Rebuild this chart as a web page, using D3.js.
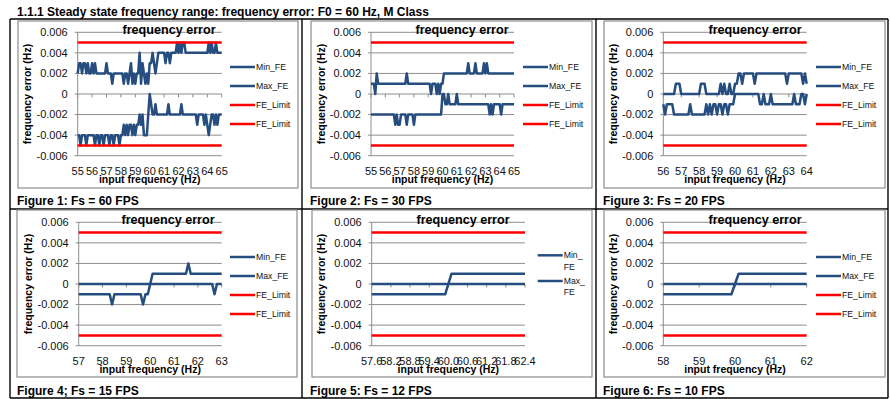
<!DOCTYPE html>
<html>
<head>
<meta charset="utf-8">
<script src="https://cdn.jsdelivr.net/npm/d3@7"></script>
<style>
  body { margin: 0; background: #fff; }
  svg { display: block; font-family: "Liberation Sans", Arial, sans-serif; }
</style>
</head>
<body>
<svg id="page" width="890" height="399"></svg>
<script>
// all error values are in mHz (0.001 Hz)
const yTicks = [-6, -4, -2, 0, 2, 4, 6];
const feLimits = [5, -5];
const legendNames = ['Min_FE', 'Max_FE', 'FE_Limit', 'FE_Limit'];
const pageTitle = '1.1.1 Steady state frequency range: frequency error: F0 = 60 Hz, M Class';
const captions = ['Figure 1: Fs = 60 FPS', 'Figure 2: Fs = 30 FPS', 'Figure 3: Fs = 20 FPS',
	'Figure 4; Fs = 15 FPS', 'Figure 5: Fs = 12 FPS', 'Figure 6: Fs = 10 FPS'];

// input frequency categories (0.1 Hz steps)
const freq1 = d3.range(550, 651).map(d => d / 10);
const freq2 = d3.range(550, 651).map(d => d / 10);
const freq3 = d3.range(560, 641).map(d => d / 10);
const freq4 = d3.range(570, 631).map(d => d / 10);
const freq5 = d3.range(576, 625).map(d => d / 10);
const freq6 = d3.range(580, 621).map(d => d / 10);

const xTicks1 = [55, 56, 57, 58, 59, 60, 61, 62, 63, 64, 65];
const xTicks2 = [55, 56, 57, 58, 59, 60, 61, 62, 63, 64, 65];
const xTicks3 = [56, 57, 58, 59, 60, 61, 62, 63, 64];
const xTicks4 = [57, 58, 59, 60, 61, 62, 63];
const xTicks5 = [57.6, 58.2, 58.8, 59.4, 60.0, 60.6, 61.2, 61.8, 62.4];
const xTicks6 = [58, 59, 60, 61, 62];

// Figure 1
const minFE1 = [
	-4,-4,-5,-4,-4,-4,-5,-4,-4,-4,
	-4,-4,-5,-4,-4,-5,-4,-4,-5,-4,
	-4,-4,-5,-4,-4,-5,-4,-4,-4,-5,
	-4,-4,-3,-4,-3,-4,-3,-3,-4,-3,
	-4,-3,-3,-2,-3,-2,-4,-4,-4,-2,
	0,-1,-2,-2,-1,-2,-2,-2,-2,-2,
	-2,-2,-2,-1,-2,-2,-2,-2,-2,-2,
	-2,-2,-1,-2,-2,-2,-2,-2,-2,-2,
	-2,-2,-2,-3,-2,-2,-2,-2,-3,-2,
	-3,-4,-3,-2,-2,-3,-2,-3,-2,-2,
	-2];
const maxFE1 = [
	2,3,3,2,3,3,2,3,2,2,
	3,2,3,2,2,2,2,2,2,2,
	3,2,2,2,1,2,2,2,2,2,
	2,2,1,2,2,1,2,3,1,2,
	1,2,2,4,1,3,2,1,2,1,
	3,3,4,3,2,3,4,4,4,4,
	4,3,4,4,3,4,4,4,4,5,
	4,5,4,5,5,4,4,4,4,4,
	4,4,4,4,4,4,4,4,4,4,
	4,5,4,5,4,4,5,4,4,4,
	4];

// Figure 2
const minFE2 = [
	-2,-2,-2,-2,-2,-2,-2,-2,-2,-2,
	-2,-2,-2,-2,-2,-2,-2,-3,-2,-3,
	-3,-2,-2,-2,-2,-3,-2,-2,-2,-2,
	-3,-2,-2,-2,-2,-2,-2,-2,-2,-2,
	-2,-2,-2,-2,-2,-2,-2,-2,-2,-2,
	0,0,-1,-1,0,-1,-1,-1,-1,-1,
	0,-1,-1,-1,-1,-1,-1,-1,-1,-1,
	-1,-1,-1,-1,-1,-1,-1,-1,-1,-1,
	-1,-1,-1,-2,-1,-2,-1,-1,-1,-1,
	-1,-2,-1,-1,-1,-1,-1,-1,-1,-1,
	-1];
const maxFE2 = [
	1,1,1,0,2,1,1,1,1,1,
	1,1,1,1,1,1,1,1,1,1,
	1,1,1,1,1,2,1,1,1,1,
	1,1,1,1,1,1,1,1,1,1,
	1,1,0,1,1,1,0,1,0,1,
	1,2,2,2,2,2,2,2,2,2,
	2,2,2,2,2,2,2,2,3,2,
	2,2,2,3,2,2,2,2,2,3,
	2,3,2,2,2,2,2,2,2,2,
	2,2,2,2,2,2,2,2,2,2,
	2];

// Figure 3
const minFE3 = [
	-1,-2,-1,-1,-1,-1,-2,-2,-2,-2,
	-2,-2,-2,-2,-2,-1,-2,-2,-2,-2,
	-2,-2,-2,-2,-1,-2,-1,-2,-1,-1,
	-2,-1,-1,-2,-1,-1,-2,-1,-1,-1,
	0,0,0,0,0,0,0,0,0,0,
	0,0,0,0,-1,-1,0,-1,-1,-1,
	0,-1,-1,-1,-1,-1,-1,-1,-1,-1,
	-1,-1,-1,0,-1,-1,-1,0,0,-1,
	0];
const maxFE3 = [
	0,0,0,0,0,0,0,1,1,1,
	0,0,0,0,0,0,0,0,0,0,
	0,1,1,1,0,0,0,0,0,0,
	0,0,1,0,1,0,0,1,0,0,
	1,1,2,2,1,2,2,2,2,2,
	2,1,2,2,2,2,2,2,2,2,
	2,2,2,2,2,2,2,2,2,1,
	2,2,2,2,2,2,2,2,1,2,
	1];

// Figure 4
const minFE4 = [
	-1,-1,-1,-1,-1,-1,-1,-1,-1,-1,
	-1,-1,-1,-1,-2,-1,-1,-1,-1,-1,
	-1,-1,-1,-1,-1,-1,-1,-2,-1,-1,
	0,1,1,1,1,1,1,1,1,1,
	1,1,1,1,1,1,2,1,1,1,
	1,1,1,1,1,1,1,1,1,1,
	1];
const maxFE4 = [
	0,0,0,0,0,0,0,0,0,0,
	0,0,0,0,0,0,0,0,0,0,
	0,0,0,0,0,0,0,0,0,0,
	0,0,0,0,0,0,0,0,0,0,
	0,0,0,0,0,0,0,0,0,0,
	0,0,0,0,0,0,0,-1,0,0,
	0];

// Figure 5
const minFE5 = [
	-1,-1,-1,-1,-1,-1,-1,-1,-1,-1,-1,-1,
	-1,-1,-1,-1,-1,-1,-1,-1,-1,-1,-1,-1,
	0,
	1,1,1,1,1,1,1,1,1,1,1,1,
	1,1,1,1,1,1,1,1,1,1,1,1];
const maxFE5 = [
	0,0,0,0,0,0,0,0,0,0,0,0,
	0,0,0,0,0,0,0,0,0,0,0,0,
	0,
	0,0,0,0,0,0,0,0,0,0,0,0,
	0,0,0,0,0,0,0,0,0,0,0,0];

// Figure 6
const minFE6 = [
	-1,-1,-1,-1,-1,-1,-1,-1,-1,-1,
	-1,-1,-1,-1,-1,-1,-1,-1,-1,-1,
	0,
	1,1,1,1,1,1,1,1,1,1,
	1,1,1,1,1,1,1,1,1,1];
const maxFE6 = [
	0,0,0,0,0,0,0,0,0,0,
	0,0,0,0,0,0,0,0,0,0,
	0,
	0,0,0,0,0,0,0,0,0,0,
	0,0,0,0,0,0,0,0,0,0];

const blue = '#264d80';
const red = '#ff0000';
const gridGray = '#8d8d8d';

const charts = [
	{freq: freq1, minFE: minFE1, maxFE: maxFE1, xTicks: xTicks1, box: [18, 21, 298, 188], left: 77.7, right: 221.7, top: 32.3, bottom: 155.7, legendX: 230, cap: [17, 205]},
	{freq: freq2, minFE: minFE2, maxFE: maxFE2, xTicks: xTicks2, box: [311, 21, 592, 188], left: 371, right: 514, top: 32.3, bottom: 155.7, legendX: 523, cap: [310, 205]},
	{freq: freq3, minFE: minFE3, maxFE: maxFE3, xTicks: xTicks3, box: [604, 21, 885, 188], left: 663.3, right: 806.7, top: 32.3, bottom: 155.7, legendX: 816, cap: [603, 205]},
	{freq: freq4, minFE: minFE4, maxFE: maxFE4, xTicks: xTicks4, box: [17, 210, 297, 377], left: 78.7, right: 221.7, top: 222.3, bottom: 345.7, legendX: 230, cap: [17, 395]},
	{freq: freq5, minFE: minFE5, maxFE: maxFE5, xTicks: xTicks5, box: [312, 210, 592, 377], left: 371.7, right: 525, top: 222.3, bottom: 345.7, legendX: 537.7, cap: [310, 395], wrapLegend: true, decimals: 1},
	{freq: freq6, minFE: minFE6, maxFE: maxFE6, xTicks: xTicks6, box: [604, 210, 885, 377], left: 663.3, right: 806.7, top: 222.3, bottom: 345.7, legendX: 816, cap: [603, 395]}
];
charts.forEach((c, i) => c.caption = captions[i]);

const svg = d3.select('#page');

function fmtY(v) {
	return v === 0 ? '0' : (v / 1000).toFixed(3);
}

function drawChart(c) {
	let g = svg.append('g');

	g.append('rect')
		.attr('x', c.box[0])
		.attr('y', c.box[1])
		.attr('width', c.box[2] - c.box[0])
		.attr('height', c.box[3] - c.box[1])
		.attr('fill', '#fff')
		.attr('stroke', gridGray)
		.attr('stroke-width', 1.2);

	let x = d3.scaleLinear().domain(d3.extent(c.freq)).range([c.left, c.right]);
	let y = d3.scaleLinear().domain([-6, 6]).range([c.bottom, c.top]);

	// gridlines, running slightly left of the axis as tick marks
	g.selectAll('line.grid').data(yTicks).enter().append('line')
		.attr('class', 'grid')
		.attr('x1', c.left - 3)
		.attr('x2', c.right)
		.attr('y1', d => y(d))
		.attr('y2', d => y(d))
		.attr('stroke', gridGray)
		.attr('stroke-width', 1);

	g.append('line')
		.attr('x1', c.left).attr('x2', c.left)
		.attr('y1', c.top).attr('y2', c.bottom)
		.attr('stroke', gridGray)
		.attr('stroke-width', 1);

	g.selectAll('line.xtick').data(c.xTicks).enter().append('line')
		.attr('class', 'xtick')
		.attr('x1', d => x(d)).attr('x2', d => x(d))
		.attr('y1', y(0)).attr('y2', y(0) + 3.5)
		.attr('stroke', gridGray)
		.attr('stroke-width', 1);

	g.selectAll('text.ytick').data(yTicks).enter().append('text')
		.attr('class', 'ytick')
		.attr('x', c.left - 10)
		.attr('y', d => y(d))
		.attr('dy', '0.35em')
		.attr('text-anchor', 'end')
		.attr('font-size', 11)
		.attr('fill', '#111')
		.text(d => fmtY(d));

	g.selectAll('text.xtick').data(c.xTicks).enter().append('text')
		.attr('class', 'xtick')
		.attr('x', d => x(d))
		.attr('y', c.bottom + 19.3)
		.attr('text-anchor', 'middle')
		.attr('font-size', 11)
		.attr('fill', '#111')
		.text(d => c.decimals ? d.toFixed(c.decimals) : d);

	g.append('text')
		.attr('x', (c.left + c.right) / 2)
		.attr('y', c.bottom + 27)
		.attr('text-anchor', 'middle')
		.attr('font-size', 10.5)
		.attr('font-weight', 'bold')
		.text('input frequency (Hz)');

	g.append('text')
		.attr('transform', 'translate(' + (c.left - 50) + ',' + ((c.top + c.bottom) / 2) + ') rotate(-90)')
		.attr('dy', '0.35em')
		.attr('text-anchor', 'middle')
		.attr('font-size', 10.5)
		.attr('font-weight', 'bold')
		.text('frequency error (Hz)');

	let line = d3.line()
		.x((d, i) => x(c.freq[i]))
		.y(d => y(d));

	[c.minFE, c.maxFE].forEach(s => {
		g.append('path')
			.attr('d', line(s))
			.attr('fill', 'none')
			.attr('stroke', blue)
			.attr('stroke-width', 2.5)
			.attr('stroke-linejoin', 'round');
	});

	g.selectAll('line.limit').data(feLimits).enter().append('line')
		.attr('class', 'limit')
		.attr('x1', c.left).attr('x2', c.right)
		.attr('y1', d => y(d)).attr('y2', d => y(d))
		.attr('stroke', red)
		.attr('stroke-width', 2.5);

	// legend
	let entries;
	if (c.wrapLegend) {
		entries = [
			{lines: ['Min_', 'FE'], color: blue, y: c.top + 33},
			{lines: ['Max_', 'FE'], color: blue, y: c.top + 58.7}
		];
	} else {
		entries = legendNames.map((n, i) => {
			return {lines: [n], color: i < 2 ? blue : red, y: c.top + 34.7 + i * 19};
		});
	}
	entries.forEach(e => {
		g.append('line')
			.attr('x1', c.legendX).attr('x2', c.legendX + 25)
			.attr('y1', e.y).attr('y2', e.y)
			.attr('stroke', e.color)
			.attr('stroke-width', 2.5);
		e.lines.forEach((t, k) => {
			g.append('text')
				.attr('x', c.legendX + 26)
				.attr('y', e.y + k * 11.4)
				.attr('dy', '0.35em')
				.attr('font-size', 8.7)
				.attr('fill', '#111')
				.text(t);
		});
	});

	g.append('text')
		.attr('x', c.box[0] + 151)
		.attr('y', c.top + 2)
		.attr('text-anchor', 'middle')
		.attr('font-size', 12.6)
		.attr('font-weight', 'bold')
		.text('frequency error');

	svg.append('text')
		.attr('x', c.cap[0])
		.attr('y', c.cap[1])
		.attr('font-size', 12)
		.attr('font-weight', 'bold')
		.text(c.caption);
}

// page heading and table frame
svg.append('text')
	.attr('x', 17)
	.attr('y', 15.5)
	.attr('font-size', 12)
	.attr('font-weight', 'bold')
	.text(pageTitle);

const colX = [10, 302, 596, 888];
const rowY = [19, 209, 398];
colX.forEach(cx => {
	svg.append('line')
		.attr('x1', cx).attr('x2', cx)
		.attr('y1', rowY[0]).attr('y2', rowY[2])
		.attr('stroke', '#000')
		.attr('stroke-width', 1.4);
});
rowY.forEach(ry => {
	svg.append('line')
		.attr('x1', colX[0]).attr('x2', colX[3])
		.attr('y1', ry).attr('y2', ry)
		.attr('stroke', '#000')
		.attr('stroke-width', 1.4);
});

charts.forEach(c => drawChart(c));
</script>
</body>
</html>
